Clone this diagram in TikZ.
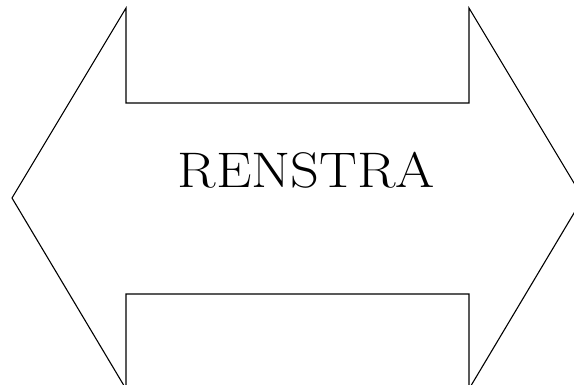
\documentclass[tikz,border=0pt]{standalone}
\usepackage{tikz}
\usetikzlibrary{positioning}

\begin{document}
\begin{tikzpicture}[
  x=1pt, y=-1pt,
  outline/.style={draw, line width=1.1pt, line join=miter},
  title/.style={font=\fontsize{50}{60}\selectfont, xscale=1.13, inner sep=0pt},
]
\useasboundingbox (0,0) rectangle (574,384);
\clip (0,0) rectangle (574,384);

% double arrow, right tip and lower corners run past the frame
\draw[outline] (12,198) -- (126,8) -- (126,103) -- (469,103) -- (469,8)
  -- (583,198) -- (469,389) -- (469,294) -- (126,294) -- (126,389) -- cycle;

\node[title] (name) at (306.5,170.5) {RENSTRA};
\end{tikzpicture}
\end{document}
